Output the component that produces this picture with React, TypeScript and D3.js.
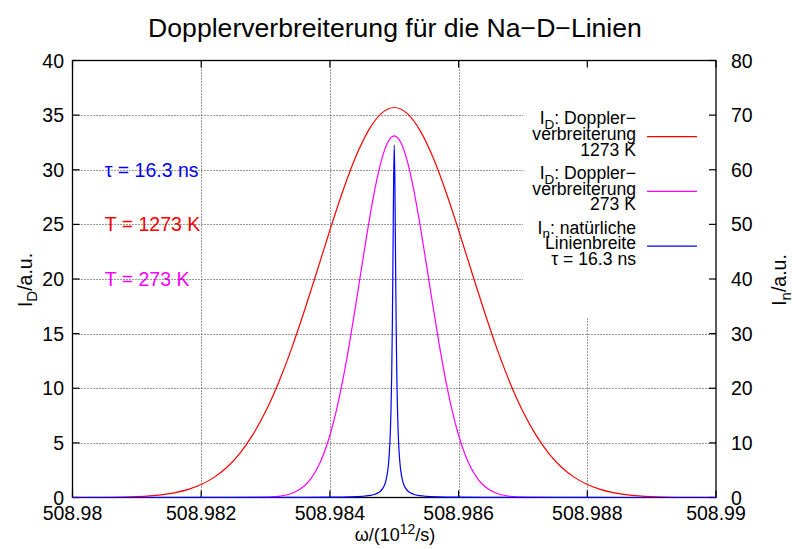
import React from "react";
import * as d3 from "d3";

// ---------- data ----------
const xTicks = [508.98, 508.982, 508.984, 508.986, 508.988, 508.99];
const xTickLabels = ["508.98", "508.982", "508.984", "508.986", "508.988", "508.99"];
const yTicks = [0, 5, 10, 15, 20, 25, 30, 35, 40];
const y2Ticks = [0, 10, 20, 30, 40, 50, 60, 70, 80];
const yGrid = [5, 10, 15, 20, 25, 30, 35];
const xGrid = [508.982, 508.984, 508.986, 508.988];

// I_D, Doppler broadening at 1273 K (left axis)
const redOmega = [
  508.98, 508.9802, 508.9804, 508.9806, 508.9808, 508.981, 508.9812, 508.9814, 508.9816, 508.9818,
  508.982, 508.9822, 508.9824, 508.9826, 508.9828, 508.983, 508.9832, 508.9834, 508.9836, 508.9838,
  508.984, 508.9842, 508.9844, 508.9846, 508.9848, 508.985, 508.9852, 508.9854, 508.9856, 508.9858,
  508.986, 508.9862, 508.9864, 508.9866, 508.9868, 508.987, 508.9872, 508.9874, 508.9876, 508.9878,
  508.988, 508.9882, 508.9884, 508.9886, 508.9888, 508.989, 508.9892, 508.9894, 508.9896, 508.9898,
  508.99,
];
const redI = [
  0.0028, 0.0059, 0.012, 0.0237, 0.0453, 0.0842, 0.1519, 0.2659, 0.4514, 0.7436,
  1.188, 1.842, 2.771, 4.045, 5.727, 7.868, 10.49, 13.56, 17.02, 20.71,
  24.46, 28.03, 31.16, 33.6, 35.16, 35.7, 35.16, 33.6, 31.16, 28.03,
  24.46, 20.71, 17.02, 13.56, 10.49, 7.868, 5.727, 4.045, 2.771, 1.842,
  1.188, 0.7436, 0.4514, 0.2659, 0.1519, 0.0842, 0.0453, 0.0237, 0.012, 0.0059,
  0.0028,
];

// I_D, Doppler broadening at 273 K (left axis)
const magOmega = [
  508.98, 508.982, 508.9825, 508.9828,
  508.983, 508.9831, 508.9832, 508.9833, 508.9834, 508.9835, 508.9836, 508.9837, 508.9838, 508.9839,
  508.984, 508.9841, 508.9842, 508.9843, 508.9844, 508.9845, 508.9846, 508.9847, 508.9848, 508.9849,
  508.985,
  508.9851, 508.9852, 508.9853, 508.9854, 508.9855, 508.9856, 508.9857, 508.9858, 508.9859, 508.986,
  508.9861, 508.9862, 508.9863, 508.9864, 508.9865, 508.9866, 508.9867, 508.9868, 508.9869, 508.987,
  508.9872, 508.9875, 508.988, 508.99,
];
const magI = [
  0, 0, 0.0006, 0.0066,
  0.029, 0.0576, 0.1104, 0.2045, 0.3655, 0.631, 1.051, 1.691, 2.625, 3.934,
  5.694, 7.955, 10.73, 13.97, 17.57, 21.32, 24.98, 28.25, 30.85, 32.52,
  33.1,
  32.52, 30.85, 28.25, 24.98, 21.32, 17.57, 13.97, 10.73, 7.955, 5.694,
  3.934, 2.625, 1.691, 1.051, 0.631, 0.3655, 0.2045, 0.1104, 0.0576, 0.029,
  0.0066, 0.0006, 0, 0,
];

// I_n, natural line width (right axis)
const blueOmega = [
  508.98, 508.982, 508.983, 508.9835, 508.984, 508.9843, 508.9845, 508.9846, 508.9847, 508.98475,
  508.9848, 508.98484, 508.98487, 508.9849, 508.98492, 508.98494, 508.98495, 508.98496, 508.98497,
  508.98498, 508.98499,
  508.985,
  508.98501, 508.98502, 508.98503, 508.98504, 508.98505, 508.98506, 508.98508, 508.9851, 508.98513,
  508.98516, 508.9852, 508.98525, 508.9853, 508.9854, 508.9855, 508.9857, 508.986, 508.9865, 508.987,
  508.988, 508.99,
];
const blueI = [
  0.00217, 0.00603, 0.01356, 0.0241, 0.0542, 0.1105, 0.2162, 0.3373, 0.5971, 0.8564,
  1.328, 2.051, 3.058, 5.003, 7.491, 12.21, 16.24, 22.22, 31.16,
  43.71, 57.65,
  64.5,
  57.65, 43.71, 31.16, 22.22, 16.24, 12.21, 7.491, 5.003, 3.058,
  2.051, 1.328, 0.8564, 0.5971, 0.3373, 0.2162, 0.1105, 0.0542, 0.0241, 0.01356,
  0.00603, 0.00217,
];

const annotations = ["τ = 16.3 ns", "T = 1273 K", "T = 273 K"];
const annotationY = [30, 25, 20];
const annotationColors = ["#0000ff", "#ff0000", "#ff00ff"];
const annotationOmega = 508.9805;

const legendColors = ["#ff0000", "#ff00ff", "#0000ff"];
const legendSub = ["D", "D", "n"];
const legendHead = [": Doppler−", ": Doppler−", ": natürliche"];
const legendLine2 = ["verbreiterung", "verbreiterung", "Linienbreite"];
const legendLine3 = ["1273 K", "273 K", "τ = 16.3 ns"];

// ---------- layout ----------
const W = 792;
const H = 549;
const L = 72.5;
const R = 716;
const T = 60.5;
const B = 497.5;
const FONT = "'Liberation Sans', Arial, Helvetica, sans-serif";
const FS = 19.5;
const LFS = 17.6;

export default function App() {
  const x = d3.scaleLinear().domain([508.98, 508.99]).range([L, R]);
  const y = d3.scaleLinear().domain([0, 40]).range([B, T]);
  const y2 = d3.scaleLinear().domain([0, 80]).range([B, T]);

  const mk = (xs: number[], ys: number[], ys2: boolean) =>
    d3
      .line<number>()
      .x((_, i) => x(xs[i]))
      .y((v) => (ys2 ? y2(v) : y(v)))
      .curve(d3.curveMonotoneX)(ys) as string;

  const redPath = mk(redOmega, redI, false);
  const magPath = mk(magOmega, magI, false);
  const bluePath = mk(blueOmega, blueI, true);

  const tick = 7;
  const legendTextX = 636;
  const legendLineX1 = 647;
  const legendLineX2 = 697;
  const legendCenter0 = 136.7;
  const legendStep = 54.7;
  const lh = 15.7;

  return (
    <svg
      width={W}
      height={H}
      style={{ position: "absolute", left: 0, top: 0, background: "#fff" }}
      fontFamily={FONT}
    >
      <rect x={0} y={0} width={W} height={H} fill="#fff" />
      {/* title */}
      <text x={395} y={37} fontSize={26.6} textAnchor="middle" fill="#000">
        Dopplerverbreiterung für die Na−D−Linien
      </text>

      {/* annotations */}
      {annotations.map((a, i) => (
        <text
          key={a}
          x={x(annotationOmega)}
          y={y(annotationY[i]) + 7}
          fontSize={FS}
          fill={annotationColors[i]}
        >
          {a}
        </text>
      ))}

      {/* grid */}
      {yGrid.map((v) => (
        <line
          key={"gy" + v}
          x1={L}
          x2={R}
          y1={Math.round(y(v)) + 0.5}
          y2={Math.round(y(v)) + 0.5}
          stroke="#333"
          strokeWidth={1}
          strokeDasharray="1 2"
        />
      ))}
      {xGrid.map((v) => (
        <line
          key={"gx" + v}
          x1={Math.round(x(v)) + 0.5}
          x2={Math.round(x(v)) + 0.5}
          y1={T}
          y2={B}
          stroke="#333"
          strokeWidth={1}
          strokeDasharray="1 2"
        />
      ))}

      {/* opaque key box */}
      <rect x={523} y={T + 1} width={R - 523 - 1} height={316 - T} fill="#fff" />

      {/* border */}
      <rect x={L} y={T} width={R - L} height={B - T} fill="none" stroke="#000" strokeWidth={1.3} />

      {/* ticks */}
      {yTicks.map((v) => (
        <line key={"ty" + v} x1={L} x2={L + tick} y1={y(v)} y2={y(v)} stroke="#000" strokeWidth={1.2} />
      ))}
      {y2Ticks.map((v) => (
        <line key={"ty2" + v} x1={R - tick} x2={R} y1={y2(v)} y2={y2(v)} stroke="#000" strokeWidth={1.2} />
      ))}
      {xTicks.map((v) => (
        <g key={"tx" + v}>
          <line x1={x(v)} x2={x(v)} y1={B} y2={B - tick} stroke="#000" strokeWidth={1.2} />
          <line x1={x(v)} x2={x(v)} y1={T} y2={T + tick} stroke="#000" strokeWidth={1.2} />
        </g>
      ))}

      {/* tick labels */}
      {yTicks.map((v) => (
        <text key={"ly" + v} x={64} y={y(v) + 7} fontSize={FS} textAnchor="end" fill="#000">
          {v}
        </text>
      ))}
      {y2Ticks.map((v) => (
        <text key={"ly2" + v} x={731} y={y2(v) + 7} fontSize={FS} textAnchor="start" fill="#000">
          {v}
        </text>
      ))}
      {xTicks.map((v, i) => (
        <text key={"lx" + v} x={x(v)} y={520} fontSize={FS} textAnchor="middle" fill="#000">
          {xTickLabels[i]}
        </text>
      ))}

      {/* axis labels */}
      <text x={395} y={541} fontSize={18} textAnchor="middle" fill="#000">
        <tspan>ω/(10</tspan>
        <tspan dy={-7} fontSize={14}>12</tspan>
        <tspan dy={7}>/s)</tspan>
      </text>
      <g transform="translate(32,280) rotate(-90)">
        <text x={0} y={0} fontSize={FS} textAnchor="middle" fill="#000">
          <tspan>I</tspan>
          <tspan dy={5} fontSize={15}>D</tspan>
          <tspan dy={-5}>/a.u.</tspan>
        </text>
      </g>
      <g transform="translate(786,280) rotate(-90)">
        <text x={0} y={0} fontSize={FS} textAnchor="middle" fill="#000">
          <tspan>I</tspan>
          <tspan dy={4.5} fontSize={15}>n</tspan>
          <tspan dy={-4.5}>/a.u.</tspan>
        </text>
      </g>

      {/* curves */}
      <path d={redPath} fill="none" stroke="#ff0000" strokeWidth={1.2} />
      <path d={magPath} fill="none" stroke="#ff00ff" strokeWidth={1.2} />
      <path d={bluePath} fill="none" stroke="#0000ff" strokeWidth={1.2} />

      {/* legend */}
      {legendColors.map((c, i) => {
        const cy = legendCenter0 + i * legendStep;
        return (
          <g key={"leg" + i}>
            <text x={legendTextX} y={cy - 12.4} fontSize={LFS} textAnchor="end" fill="#000">
              <tspan>I</tspan>
              <tspan dy={4.5} fontSize={13.5}>{legendSub[i]}</tspan>
              <tspan dy={-4.5}>{legendHead[i]}</tspan>
            </text>
            <text x={legendTextX} y={cy - 12.4 + lh} fontSize={LFS} textAnchor="end" fill="#000">
              {legendLine2[i]}
            </text>
            <text x={legendTextX} y={cy - 12.4 + 2 * lh} fontSize={LFS} textAnchor="end" fill="#000">
              {legendLine3[i]}
            </text>
            <line x1={legendLineX1} x2={legendLineX2} y1={cy} y2={cy} stroke={c} strokeWidth={1.2} />
          </g>
        );
      })}
    </svg>
  );
}
